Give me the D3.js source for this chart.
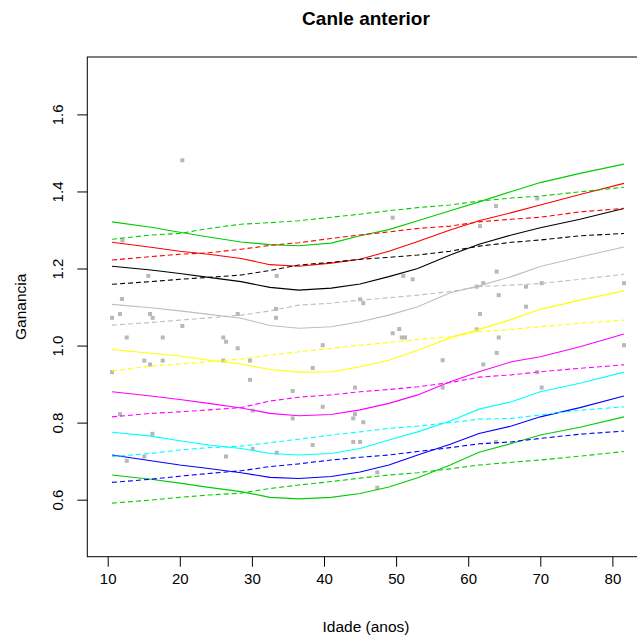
<!DOCTYPE html>
<html>
<head>
<meta charset="utf-8">
<script src="https://cdn.jsdelivr.net/npm/d3@7"></script>
<style>
  html, body { margin: 0; padding: 0; background: #ffffff; }
  svg { display: block; }
  text { font-family: "Liberation Sans", Arial, sans-serif; fill: #000; }
</style>
</head>
<body>
<svg id="chart" width="637" height="638"></svg>
<script>
// ---- data ----
const title = "Canle anterior";
const xLabel = "Idade (anos)";
const yLabel = "Ganancia";
const xTicks = [10, 20, 30, 40, 50, 60, 70, 80];
const yTicks = [0.6, 0.8, 1.0, 1.2, 1.4, 1.6];
const yTickLabels = ["0.6", "0.8", "1.0", "1.2", "1.4", "1.6"];

const ages = [10.6, 16, 20, 24, 28.5, 32.5, 36.5, 41, 45, 49, 53, 57.5, 61.5, 66, 70, 75.5, 81.6];

// solid curves (top to bottom)
const solid1 = [1.321, 1.307, 1.294, 1.282, 1.269, 1.262, 1.259, 1.266, 1.285, 1.301, 1.324, 1.350, 1.373, 1.400, 1.423, 1.447, 1.471];
const solid2 = [1.268, 1.255, 1.245, 1.237, 1.226, 1.210, 1.206, 1.214, 1.224, 1.245, 1.270, 1.300, 1.324, 1.345, 1.365, 1.392, 1.421];
const solid3 = [1.206, 1.196, 1.187, 1.177, 1.166, 1.151, 1.144, 1.149, 1.160, 1.179, 1.200, 1.235, 1.263, 1.287, 1.306, 1.328, 1.356];
const solid4 = [1.107, 1.098, 1.090, 1.081, 1.071, 1.052, 1.045, 1.049, 1.062, 1.079, 1.101, 1.137, 1.155, 1.179, 1.205, 1.230, 1.256];
const solid5 = [0.990, 0.980, 0.973, 0.962, 0.952, 0.938, 0.931, 0.932, 0.945, 0.962, 0.988, 1.020, 1.042, 1.068, 1.094, 1.118, 1.142];
const solid6 = [0.880, 0.869, 0.860, 0.850, 0.838, 0.824, 0.818, 0.821, 0.833, 0.850, 0.872, 0.906, 0.932, 0.958, 0.971, 0.997, 1.030];
const solid7 = [0.775, 0.765, 0.753, 0.742, 0.733, 0.720, 0.716, 0.720, 0.733, 0.755, 0.776, 0.804, 0.835, 0.854, 0.880, 0.902, 0.931];
const solid8 = [0.716, 0.701, 0.690, 0.681, 0.670, 0.658, 0.655, 0.660, 0.672, 0.690, 0.716, 0.744, 0.772, 0.791, 0.815, 0.839, 0.869];
const solid9 = [0.664, 0.653, 0.643, 0.632, 0.621, 0.606, 0.602, 0.606, 0.616, 0.633, 0.657, 0.690, 0.723, 0.746, 0.768, 0.788, 0.815];

// dashed curves (top to bottom)
const dashed1 = [1.276, 1.287, 1.291, 1.304, 1.315, 1.319, 1.324, 1.333, 1.341, 1.350, 1.358, 1.365, 1.375, 1.383, 1.388, 1.399, 1.411];
const dashed2 = [1.222, 1.231, 1.237, 1.241, 1.250, 1.260, 1.267, 1.278, 1.287, 1.295, 1.304, 1.310, 1.321, 1.328, 1.333, 1.347, 1.356];
const dashed3 = [1.159, 1.166, 1.172, 1.177, 1.183, 1.195, 1.209, 1.216, 1.224, 1.229, 1.235, 1.245, 1.258, 1.268, 1.274, 1.285, 1.291];
const dashed4 = [1.053, 1.060, 1.066, 1.072, 1.079, 1.090, 1.105, 1.110, 1.118, 1.124, 1.131, 1.140, 1.153, 1.157, 1.161, 1.172, 1.185];
const dashed5 = [0.934, 0.947, 0.952, 0.958, 0.965, 0.975, 0.984, 0.993, 1.001, 1.008, 1.016, 1.023, 1.036, 1.042, 1.049, 1.058, 1.066];
const dashed6 = [0.815, 0.824, 0.828, 0.833, 0.839, 0.856, 0.866, 0.872, 0.880, 0.886, 0.893, 0.904, 0.918, 0.924, 0.932, 0.941, 0.950];
const dashed7 = [0.712, 0.720, 0.729, 0.735, 0.739, 0.748, 0.757, 0.768, 0.776, 0.785, 0.791, 0.800, 0.809, 0.811, 0.820, 0.832, 0.841];
const dashed8 = [0.645, 0.653, 0.661, 0.668, 0.675, 0.686, 0.693, 0.703, 0.710, 0.716, 0.725, 0.735, 0.745, 0.750, 0.759, 0.770, 0.778];
const dashed9 = [0.591, 0.599, 0.606, 0.612, 0.617, 0.629, 0.638, 0.647, 0.656, 0.664, 0.670, 0.680, 0.690, 0.697, 0.703, 0.713, 0.725];

const curveColors = ["#00cd00", "#ff0000", "#000000", "#bebebe", "#ffff00", "#ff00ff", "#00ffff", "#0000ff", "#00cd00"];

// observed points
const pointAges = [20.35, 12.05, 15.63, 33.44, 11.98, 10.6, 11.71, 15.87, 16.24, 20.35, 28.03, 33.34, 33.34,
  49.53, 51.0, 52.3, 45.0, 45.45, 50.44, 63.86, 69.58, 61.64, 63.95, 61.18, 62.09, 68.02, 70.19, 64.23, 68.02,
  61.64, 81.61, 61.18, 12.64, 17.63, 26.03, 26.41, 28.03, 15.08, 15.87, 17.63, 26.03, 29.74, 29.74, 10.6, 30.11,
  11.71, 16.19, 30.11, 33.44, 12.64, 15.08, 26.41, 49.53, 50.78, 51.23, 39.82, 56.46, 38.43, 56.46, 35.66, 44.3,
  39.82, 44.3, 44.06, 35.66, 45.45, 38.43, 44.06, 45.0, 47.39, 47.39, 64.23, 63.95, 62.09, 69.58, 70.19, 81.61, 63.86];
const pointValues = [1.481, 1.273, 1.181, 1.181, 1.121, 1.072, 1.082, 1.082, 1.072, 1.051, 1.082, 1.095, 1.072,
  1.332, 1.181, 1.172, 1.120, 1.110, 1.043, 1.362, 1.382, 1.310, 1.192, 1.153, 1.162, 1.153, 1.162, 1.131, 1.101,
  1.082, 1.162, 1.042, 1.021, 1.021, 1.021, 1.010, 0.993, 0.961, 0.951, 0.961, 0.961, 0.961, 0.911, 0.931, 0.831,
  0.822, 0.771, 0.732, 0.722, 0.701, 0.712, 0.712, 1.032, 1.021, 1.021, 1.001, 0.962, 0.942, 0.891, 0.882, 0.891,
  0.841, 0.822, 0.811, 0.811, 0.801, 0.742, 0.750, 0.750, 0.671, 0.631, 1.021, 0.981, 0.951, 0.931, 0.891, 1.001, 0.750];

// ---- drawing ----
const svg = d3.select("#chart");
const plotLeft = 87.3, plotRight = 644.7, plotTop = 57, plotBottom = 556.7;

const x = d3.scaleLinear().domain([7.17, 84.48]).range([plotLeft, plotRight]);
const y = d3.scaleLinear().domain([0.452, 1.749]).range([plotBottom, plotTop]);

// points
svg.append("g").selectAll("rect")
  .data(pointAges.map((a, i) => [a, pointValues[i]]))
  .join("rect")
  .attr("x", d => x(d[0]) - 2)
  .attr("y", d => y(d[1]) - 2)
  .attr("width", 4)
  .attr("height", 4)
  .attr("fill", "#b8b8b8");

const line = d3.line().x(d => x(d[0])).y(d => y(d[1])).curve(d3.curveLinear);

const solids = [solid1, solid2, solid3, solid4, solid5, solid6, solid7, solid8, solid9];
const dasheds = [dashed1, dashed2, dashed3, dashed4, dashed5, dashed6, dashed7, dashed8, dashed9];

const gLines = svg.append("g").attr("fill", "none");
solids.forEach((s, i) => {
  gLines.append("path")
    .attr("d", line(ages.map((a, j) => [a, s[j]])))
    .attr("stroke", curveColors[i])
    .attr("stroke-width", 1.1);
});
dasheds.forEach((s, i) => {
  gLines.append("path")
    .attr("d", line(ages.map((a, j) => [a, s[j]])))
    .attr("stroke", curveColors[i])
    .attr("stroke-width", 1.1)
    .attr("stroke-dasharray", "5,3");
});

// box
svg.append("rect")
  .attr("x", plotLeft).attr("y", plotTop)
  .attr("width", plotRight - plotLeft).attr("height", plotBottom - plotTop)
  .attr("fill", "none").attr("stroke", "#000").attr("stroke-width", 1);

// x axis
const xAxis = svg.append("g")
  .attr("transform", `translate(0,${plotBottom})`)
  .call(d3.axisBottom(x).tickValues(xTicks).tickSize(10).tickPadding(7).tickFormat(d3.format("d")));
xAxis.select(".domain").remove();
xAxis.selectAll("line").attr("stroke", "#000");
xAxis.selectAll("text").attr("font-size", "15px").attr("font-family", "Liberation Sans, Arial, sans-serif").attr("fill", "#000");

// y axis
const yAxis = svg.append("g")
  .attr("transform", `translate(${plotLeft},0)`)
  .call(d3.axisLeft(y).tickValues(yTicks).tickSize(10).tickFormat((d, i) => yTickLabels[i]));
yAxis.select(".domain").remove();
yAxis.selectAll("line").attr("stroke", "#000");
yAxis.selectAll("text")
  .attr("x", null)
  .attr("transform", "translate(-30,0) rotate(-90)")
  .attr("y", 0)
  .attr("dy", "0.35em")
  .attr("text-anchor", "middle")
  .attr("font-size", "15px")
  .attr("font-family", "Liberation Sans, Arial, sans-serif")
  .attr("fill", "#000");

// title and labels
const cx = (plotLeft + plotRight) / 2;
svg.append("text")
  .attr("x", cx).attr("y", 25)
  .attr("text-anchor", "middle")
  .attr("font-size", "19px")
  .attr("font-weight", "bold")
  .text(title);

svg.append("text")
  .attr("x", cx).attr("y", 632)
  .attr("text-anchor", "middle")
  .attr("font-size", "15.5px")
  .text(xLabel);

svg.append("text")
  .attr("transform", `translate(26,${(plotTop + plotBottom) / 2}) rotate(-90)`)
  .attr("text-anchor", "middle")
  .attr("font-size", "15.5px")
  .text(yLabel);
</script>
</body>
</html>
